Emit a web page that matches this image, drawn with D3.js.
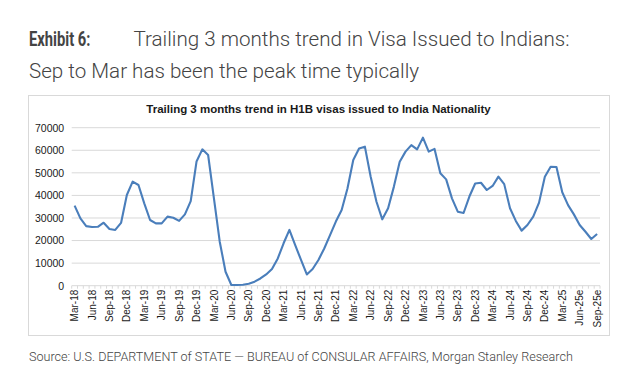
<!DOCTYPE html>
<html>
<head>
  <meta charset="UTF-8">
  <title>Trailing 3 months trend in H1B visas</title>
  <style>
    body {
      margin: 0;
      background: #fff;
      overflow: hidden;
    }
    .head { font-family: Roboto, sans-serif; fill: #444; }
    .grid line { stroke: #d9d9d9; stroke-width: 1px; }
    .axis text { font-family: Arial, "Liberation Sans", sans-serif; fill: #1a1a1a; }
    .series {
      fill: none;
      stroke: #4a7ebb;
      stroke-width: 2.1px;
      stroke-linejoin: round;
    }
  </style>
</head>
<body>

<svg id="chart"></svg>

<script src="https://d3js.org/d3.v7.min.js"></script>
<script>
const width = 633;
const height = 391;

// months Mar-18 .. Sep-25 (trailing 3m H1B visas, India)
const months = [
  "Mar-18","Apr-18","May-18","Jun-18","Jul-18","Aug-18","Sep-18","Oct-18","Nov-18","Dec-18","Jan-19","Feb-19",
  "Mar-19","Apr-19","May-19","Jun-19","Jul-19","Aug-19","Sep-19","Oct-19","Nov-19","Dec-19","Jan-20","Feb-20",
  "Mar-20","Apr-20","May-20","Jun-20","Jul-20","Aug-20","Sep-20","Oct-20","Nov-20","Dec-20","Jan-21","Feb-21",
  "Mar-21","Apr-21","May-21","Jun-21","Jul-21","Aug-21","Sep-21","Oct-21","Nov-21","Dec-21","Jan-22","Feb-22",
  "Mar-22","Apr-22","May-22","Jun-22","Jul-22","Aug-22","Sep-22","Oct-22","Nov-22","Dec-22","Jan-23","Feb-23",
  "Mar-23","Apr-23","May-23","Jun-23","Jul-23","Aug-23","Sep-23","Oct-23","Nov-23","Dec-23","Jan-24","Feb-24",
  "Mar-24","Apr-24","May-24","Jun-24","Jul-24","Aug-24","Sep-24","Oct-24","Nov-24","Dec-24","Jan-25","Feb-25",
  "Mar-25","Apr-25","May-25","Jun-25e","Jul-25e","Aug-25e","Sep-25e"
];

const visas = [
  35500, 29800, 26400, 26000, 26100, 27900, 25100, 24700, 27800, 40200, 46100, 44600,
  36500, 29100, 27600, 27600, 30600, 30100, 28700, 31600, 37500, 55000, 60400, 57900,
  38700, 19500, 6200, 300, 300, 400, 900, 1800, 3200, 5000, 7400, 12100,
  18800, 24700, 18000, 11400, 5000, 7400, 11400, 16500, 22400, 28400, 33500, 43100,
  55700, 60800, 61600, 48300, 37200, 29400, 34300, 43900, 54900, 59400, 62300, 60400,
  65600, 59400, 60600, 49800, 47100, 38700, 32800, 32200, 39500, 45300, 45600, 42400,
  44200, 48300, 45000, 34300, 28700, 24400, 26900, 30600, 36800, 48300, 52700, 52600,
  41400, 35700, 31600, 26900, 23900, 20700, 22900
];

const yTicks = [0, 10000, 20000, 30000, 40000, 50000, 60000, 70000];
// every third month gets a label
const xLabels = months.filter((m, i) => i % 3 === 0);

const titleBold = "Exhibit 6:";
const titleLine1 = "Trailing 3 months trend in Visa Issued to Indians:";
const titleLine2 = "Sep to Mar has been the peak time typically";
const chartTitle = "Trailing 3 months trend in H1B visas issued to India Nationality";
const source = "Source: U.S. DEPARTMENT of STATE \u2014 BUREAU of CONSULAR AFFAIRS, Morgan Stanley Research";

const box = { left: 28.5, top: 95.5, right: 609.5, bottom: 335.5 };
const plot = { left: 71.7, right: 600, top: 127.7, bottom: 285.7 };

const svg = d3.select("#chart")
  .attr("width", width)
  .attr("height", height);

// heading
svg.append("text")
  .attr("class", "head")
  .attr("x", 29).attr("y", 46)
  .attr("font-size", 20.5).attr("font-weight", 700)
  .attr("textLength", 61.5).attr("lengthAdjust", "spacingAndGlyphs")
  .text(titleBold);

svg.append("text")
  .attr("class", "head")
  .attr("x", 133.5).attr("y", 46)
  .attr("font-size", 20.6).attr("font-weight", 300)
  .text(titleLine1);

svg.append("text")
  .attr("class", "head")
  .attr("x", 29).attr("y", 77.5)
  .attr("font-size", 20.6).attr("font-weight", 300)
  .text(titleLine2);

// chart frame
svg.append("rect")
  .attr("x", box.left).attr("y", box.top)
  .attr("width", box.right - box.left)
  .attr("height", box.bottom - box.top)
  .attr("fill", "#fff")
  .attr("stroke", "#d9d9d9");

svg.append("text")
  .attr("x", (box.left + box.right) / 2 - 0.5)
  .attr("y", 113.3)
  .attr("text-anchor", "middle")
  .attr("font-family", "Arial, 'Liberation Sans', sans-serif")
  .attr("font-size", 11.5)
  .attr("font-weight", 700)
  .attr("fill", "#1a1a1a")
  .text(chartTitle);

// scales
const band = d3.scaleBand()
  .domain(months)
  .range([plot.left, plot.right]);

const x = m => band(m) + band.bandwidth() / 2;

const y = d3.scaleLinear()
  .domain([0, 70000])
  .range([plot.bottom, plot.top]);

// gridlines
svg.append("g")
  .attr("class", "grid")
  .selectAll("line")
  .data(yTicks.slice(1))
  .join("line")
  .attr("x1", plot.left).attr("x2", plot.right)
  .attr("y1", d => y(d)).attr("y2", d => y(d));

// y axis labels
const yAxis = svg.append("g")
  .attr("class", "axis")
  .attr("transform", `translate(${plot.left},0)`)
  .call(d3.axisLeft(y).tickValues(yTicks).tickFormat(d3.format("d")).tickSize(0).tickPadding(7.5));
yAxis.select(".domain").remove();
yAxis.selectAll("text").attr("font-size", 10.5).attr("font-family", null);

// x axis: minor ticks at every category boundary
const xAxis = svg.append("g")
  .attr("class", "axis")
  .attr("transform", `translate(0,${plot.bottom})`);

xAxis.append("line")
  .attr("x1", plot.left).attr("x2", plot.right)
  .attr("stroke", "#d9d9d9");

const bounds = months.map(m => band(m)).concat([plot.right]);
xAxis.selectAll("line.tick")
  .data(bounds)
  .join("line")
  .attr("class", "tick")
  .attr("x1", d => d).attr("x2", d => d)
  .attr("y1", 0).attr("y2", 3)
  .attr("stroke", "#d9d9d9");

xAxis.selectAll("text")
  .data(xLabels)
  .join("text")
  .attr("transform", d => `translate(${x(d) + 3.6},4) rotate(-90)`)
  .attr("text-anchor", "end")
  .attr("font-size", 10)
  .text(d => d);

// series
const line = d3.line()
  .x((d, i) => x(months[i]))
  .y(d => y(d));

svg.append("path")
  .datum(visas)
  .attr("class", "series")
  .attr("d", line);

// source
svg.append("text")
  .attr("class", "head")
  .attr("x", 29).attr("y", 360.5)
  .attr("font-size", 12.6).attr("font-weight", 300)
  .text(source);
</script>

</body>
</html>
